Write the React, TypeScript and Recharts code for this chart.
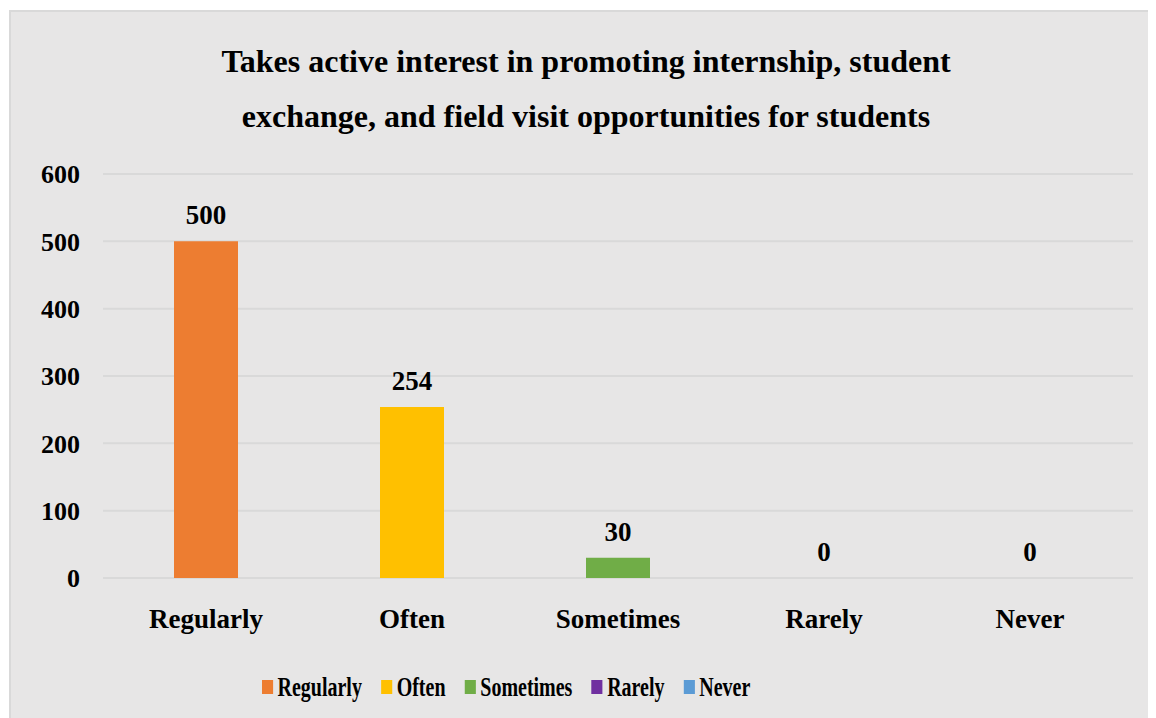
import * as React from 'react';
import { ComposedChart, Bar, Line, XAxis, YAxis, CartesianGrid, Cell, LabelList, Legend } from 'recharts';

const categories = ['Regularly', 'Often', 'Sometimes', 'Rarely', 'Never'];
const counts = [500, 254, 30, 0, 0];
const colors = ['#ED7D31', '#FFC000', '#70AD47', '#7030A0', '#5B9BD5'];
const yTicks = [0, 100, 200, 300, 400, 500, 600];
const titleLines = [
  'Takes active interest in promoting internship, student',
  'exchange, and field visit opportunities for students',
];

const FONT = '"Liberation Serif", "Times New Roman", serif';
const tickStyle = { fill: '#000', fontSize: 26, fontWeight: 'bold', fontFamily: FONT };

// one legend entry per category (single series coloured by cell); the source legend is condensed
function CategoryLegend() {
  return (
    <div
      style={{
        position: 'absolute',
        left: 251,
        top: 0,
        display: 'flex',
        alignItems: 'center',
        height: 40,
        fontFamily: FONT,
        transform: 'scaleX(0.74)',
        transformOrigin: 'left center',
        whiteSpace: 'nowrap',
      }}
    >
      {categories.map((name, i) => (
        <div key={name} style={{ display: 'flex', alignItems: 'center', marginRight: 26 }}>
          <span style={{ display: 'inline-block', width: 15, height: 14, background: colors[i], marginRight: 6 }} />
          <span style={{ fontSize: 27, fontWeight: 'bold', color: '#000' }}>{name}</span>
        </div>
      ))}
    </div>
  );
}

export default function App() {
  const data = React.useMemo(
    () => categories.map((name, i) => ({ name, value: counts[i] })),
    [],
  );

  return (
    <div
      style={{
        position: 'relative',
        marginLeft: 1,
        marginTop: 2,
        width: 1145,
        height: 706,
        background: '#e7e6e6',
        borderTop: '2px solid #d9d9d9',
        borderLeft: '2px solid #d9d9d9',
        fontFamily: FONT,
      }}
    >
      <div
        style={{
          position: 'absolute',
          left: 0,
          top: 22,
          width: 1150,
          textAlign: 'center',
          fontSize: 32,
          fontWeight: 'bold',
          lineHeight: '55px',
          color: '#000',
        }}
      >
        {titleLines.map((line) => (
          <div key={line}>{line}</div>
        ))}
      </div>
      <ComposedChart
        width={1145}
        height={706}
        data={data}
        margin={{ top: 162, right: 23, bottom: 11, left: 32 }}
      >
        <CartesianGrid vertical={false} stroke="#d9d9d9" strokeWidth={2} />
        <XAxis
          dataKey="name"
          axisLine={false}
          tickLine={false}
          height={89}
          tickMargin={25}
          tick={{ ...tickStyle, fontSize: 27 }}
        />
        <YAxis
          domain={[0, 600]}
          ticks={yTicks}
          axisLine={false}
          tickLine={false}
          width={60}
          tickMargin={17}
          tick={tickStyle}
        />
        <Legend
          verticalAlign="bottom"
          wrapperStyle={{ height: 40, width: 1145, left: 0 }}
          content={() => <CategoryLegend />}
        />
        <Bar dataKey="value" barSize={64} isAnimationActive={false}>
          {data.map((d, i) => (
            <Cell key={d.name} fill={colors[i]} />
          ))}
        </Bar>
        {/* invisible line carries the value labels so zero bars still get their "0" */}
        <Line dataKey="value" stroke="none" dot={false} activeDot={false} isAnimationActive={false}>
          <LabelList dataKey="value" position="top" offset={17} style={{ ...tickStyle, fontSize: 27 }} />
        </Line>
      </ComposedChart>
    </div>
  );
}
